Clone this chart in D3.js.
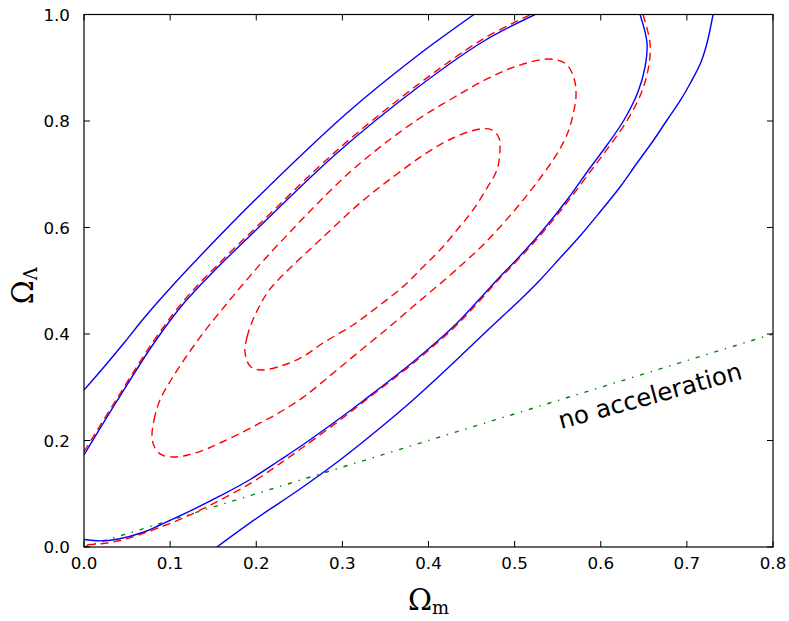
<!DOCTYPE html>
<html><head><meta charset="utf-8">
<script src="https://cdn.jsdelivr.net/npm/d3@7"></script>
<style>body{margin:0;background:#fff}</style>
</head><body><svg id="c" width="789" height="621"></svg>
<script>
// ---- data (Omega_m, Omega_Lambda) ----
const xTickValues = [0, 0.1, 0.2, 0.3, 0.4, 0.5, 0.6, 0.7, 0.8];
const yTickValues = [0, 0.2, 0.4, 0.6, 0.8, 1.0];

// blue solid contours (open branches, clipped by the axes)
const blueOuterUpper = [[0,0.2948],[0.0232,0.338],[0.0464,0.3831],[0.0697,0.4300],[0.0929,0.4732],[0.1393,0.554],[0.2009,0.6554],[0.3054,0.815],[0.3866,0.922],[0.4528,1.0]];
const blueOuterLower = [[0.7304,1.0],[0.7234,0.9465],[0.7164,0.9108],[0.7048,0.8732],[0.692,0.8376],[0.677,0.8019],[0.6607,0.7624],[0.6421,0.7211],[0.6224,0.6761],[0.5991,0.6291],[0.5759,0.584],[0.5527,0.5427],[0.5295,0.5014],[0.5062,0.4638],[0.4714,0.4113],[0.425,0.3399],[0.382,0.2761],[0.3437,0.2235],[0.2972,0.1634],[0.2508,0.1089],[0.2009,0.0545],[0.1544,0.0]];
const blueInnerUpper = [[0,0.1728],[0.0383,0.2742],[0.0813,0.3831],[0.1161,0.4582],[0.1509,0.5183],[0.2009,0.5972],[0.2938,0.7399],[0.3866,0.862],[0.4644,0.9502],[0.5237,1.0]];
const blueInnerLower = [[0.6456,1.0],[0.6537,0.9465],[0.6514,0.9014],[0.6432,0.8545],[0.627,0.8019],[0.6073,0.7549],[0.5875,0.7117],[0.5608,0.6516],[0.533,0.5953],[0.5062,0.5465],[0.4795,0.5014],[0.454,0.4563],[0.4284,0.4131],[0.382,0.3474],[0.3239,0.2742],[0.3007,0.246],[0.2554,0.1934],[0.2276,0.1634],[0.1939,0.1277],[0.1579,0.0958],[0.1161,0.062],[0.0882,0.0413],[0.0697,0.0282],[0.0383,0.0145],[0.0186,0.0115],[0,0.0141]];

// red dashed contours
const redOuterUpper = [[0,0.179],[0.0383,0.279],[0.0813,0.388],[0.1161,0.463],[0.1509,0.523],[0.2009,0.602],[0.2938,0.745],[0.3866,0.867],[0.4644,0.955],[0.519,1.0]];
const redOuterLower = [[0.649,1.0],[0.6572,0.9465],[0.6555,0.9014],[0.6475,0.8545],[0.631,0.8019],[0.611,0.7549],[0.591,0.7117],[0.563,0.6516],[0.535,0.5953],[0.508,0.5465],[0.481,0.5014],[0.456,0.4563],[0.4304,0.4131],[0.384,0.3474],[0.3259,0.2742],[0.3027,0.245],[0.2574,0.191],[0.2296,0.159],[0.1959,0.122],[0.1579,0.088],[0.1161,0.055],[0.0848,0.035],[0.065,0.0235],[0.0453,0.0135],[0.022,0.0065],[0,0.004]];
const redMiddle = [[0.0790,0.2066],[0.0813,0.2385],[0.0882,0.2761],[0.1010,0.3136],[0.1184,0.3568],[0.1393,0.4038],[0.1626,0.4507],[0.1858,0.4958],[0.2090,0.5390],[0.2392,0.5915],[0.2705,0.6441],[0.3089,0.7042],[0.3483,0.7568],[0.3901,0.8056],[0.4285,0.8432],[0.4679,0.8789],[0.5028,0.9033],[0.5411,0.9164],[0.5597,0.9070],[0.5689,0.8807],[0.5713,0.8488],[0.5678,0.8113],[0.5620,0.7793],[0.5538,0.7512],[0.5446,0.7267],[0.5306,0.6948],[0.5155,0.6629],[0.4993,0.6310],[0.4819,0.5991],[0.4633,0.5671],[0.4435,0.5371],[0.4226,0.5070],[0.4006,0.4770],[0.3774,0.4451],[0.3530,0.4113],[0.3274,0.3775],[0.3007,0.3418],[0.2740,0.3061],[0.2566,0.2836],[0.2392,0.2648],[0.2218,0.2479],[0.2044,0.2329],[0.1823,0.2141],[0.1579,0.1953],[0.1393,0.1822],[0.1208,0.1728],[0.1045,0.1690],[0.0906,0.1728],[0.0824,0.1859]];
const redInner = [[0.1869,0.3662],[0.1893,0.3944],[0.1951,0.4225],[0.2044,0.4545],[0.2160,0.4845],[0.2392,0.5239],[0.2740,0.5765],[0.3205,0.6460],[0.3588,0.6948],[0.3959,0.7380],[0.4284,0.7681],[0.4598,0.7850],[0.4737,0.7831],[0.4819,0.7681],[0.4830,0.7455],[0.4795,0.7080],[0.4679,0.6742],[0.4517,0.6329],[0.4331,0.5953],[0.4133,0.5577],[0.3936,0.5258],[0.3727,0.4920],[0.3437,0.4545],[0.3123,0.4169],[0.2775,0.3831],[0.2554,0.3587],[0.2322,0.3418],[0.2044,0.3324],[0.1927,0.3399]];

// no-acceleration line Omega_Lambda = Omega_m / 2
const noAccel = [[0,0],[0.8,0.4]];
const noAccelLabel = "no acceleration";

// ---- drawing ----
const svg = d3.select("#c");
svg.append("rect").attr("width",789).attr("height",621).attr("fill","#fff");
const L = 84, R = 773, T = 14.5, B = 547;
const x = d3.scaleLinear().domain([0,0.8]).range([L,R]);
const y = d3.scaleLinear().domain([0,1]).range([B,T]);

svg.append("defs").append("clipPath").attr("id","clip")
  .append("rect").attr("x",L).attr("y",T).attr("width",R-L).attr("height",B-T);
const g = svg.append("g").attr("clip-path","url(#clip)");

const open = d3.line().x(d=>x(d[0])).y(d=>y(d[1])).curve(d3.curveCatmullRom.alpha(0.5));
const closed = d3.line().x(d=>x(d[0])).y(d=>y(d[1])).curve(d3.curveCatmullRomClosed.alpha(0.5));
const straight = d3.line().x(d=>x(d[0])).y(d=>y(d[1]));

const lw = 1.4;
// green dash-dot
g.append("path").attr("d",straight(noAccel)).attr("fill","none")
  .attr("stroke","#008000").attr("stroke-width",lw).attr("stroke-dasharray","4.2,6.9,1.4,6.9");
// blue
[blueOuterUpper, blueOuterLower, blueInnerUpper, blueInnerLower].forEach(d=>{
  g.append("path").attr("d",open(d)).attr("fill","none").attr("stroke","#0000ff").attr("stroke-width",lw);
});
// red
[redOuterUpper, redOuterLower].forEach(d=>{
  g.append("path").attr("d",open(d)).attr("fill","none").attr("stroke","#ff0000").attr("stroke-width",lw).attr("stroke-dasharray","8,5");
});
[redMiddle, redInner].forEach(d=>{
  g.append("path").attr("d",closed(d)).attr("fill","none").attr("stroke","#ff0000").attr("stroke-width",lw).attr("stroke-dasharray","8,5");
});

// frame
svg.append("rect").attr("x",L).attr("y",T).attr("width",R-L).attr("height",B-T)
  .attr("fill","none").attr("stroke","#000").attr("stroke-width",1.2);

// ticks (inward, all four sides)
const tl = 6;
const tk = svg.append("g").attr("stroke","#000").attr("stroke-width",1);
xTickValues.forEach(v=>{
  tk.append("line").attr("x1",x(v)).attr("x2",x(v)).attr("y1",B).attr("y2",B-tl);
  tk.append("line").attr("x1",x(v)).attr("x2",x(v)).attr("y1",T).attr("y2",T+tl);
});
yTickValues.forEach(v=>{
  tk.append("line").attr("x1",L).attr("x2",L+tl).attr("y1",y(v)).attr("y2",y(v));
  tk.append("line").attr("x1",R).attr("x2",R-tl).attr("y1",y(v)).attr("y2",y(v));
});
const fmt = d3.format(".1f");
const tf = "'DejaVu Sans', sans-serif";
svg.append("g").selectAll("text").data(xTickValues).join("text")
  .attr("x",d=>x(d)).attr("y",B+22).attr("text-anchor","middle")
  .attr("font-family",tf).attr("font-size",16.7).text(d=>fmt(d));
svg.append("g").selectAll("text").data(yTickValues).join("text")
  .attr("x",L-14).attr("y",d=>y(d)).attr("dy","0.36em").attr("text-anchor","end")
  .attr("font-family",tf).attr("font-size",16.7).text(d=>fmt(d));

// axis labels
const sf = "'DejaVu Serif', serif";
const xl = svg.append("text").attr("x",(L+R)/2).attr("y",610).attr("text-anchor","middle").attr("font-family",sf);
xl.append("tspan").attr("font-size",29).text("Ω");
xl.append("tspan").attr("font-size",18).attr("dy",4).text("m");
const yl = svg.append("text").attr("transform",`translate(33,${(T+B)/2+5}) rotate(-90)`).attr("text-anchor","middle").attr("font-family",sf);
yl.append("tspan").attr("font-size",29).text("Ω");
yl.append("tspan").attr("font-size",18).attr("dy",4).text("Λ");

// annotation
svg.append("text").attr("transform","translate(561,429) rotate(-15.4)")
  .attr("font-family",tf).attr("font-size",24.5).text(noAccelLabel);
</script></body></html>
